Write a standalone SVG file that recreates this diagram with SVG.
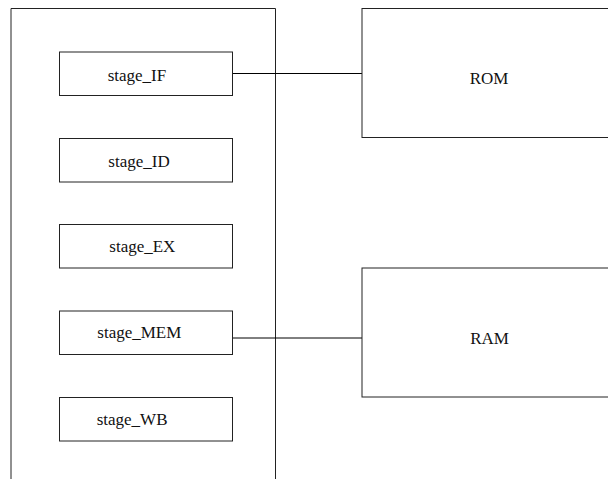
<svg xmlns="http://www.w3.org/2000/svg" width="608" height="479" viewBox="0 0 608 479">
  <style>
    .box { fill: #ffffff; stroke: #222222; stroke-width: 1; }
    .frame { fill: none; stroke: #222222; stroke-width: 1; }
    .wire { fill: none; stroke: #000000; stroke-width: 1; }
    .label { font-family: "Liberation Serif", "Times New Roman", serif; font-size: 17px; fill: #111111; }
  </style>
  <rect width="608" height="479" fill="#ffffff"/>

  <!-- CPU core container (open at the bottom) -->
  <g id="cpu">
    <path class="frame" d="M11,479 V8.5 H275.5 V479"/>
  </g>

  <!-- connectors -->
  <g id="connectors">
    <path class="wire" d="M232.5,73.5 H362"/>
    <path class="wire" d="M232.5,338 H362"/>
  </g>

  <!-- pipeline stages -->
  <g id="stage_IF">
    <rect class="box" x="59.5" y="52" width="173" height="43.5"/>
    <text class="label" x="107.7" y="80.5">stage_IF</text>
  </g>
  <g id="stage_ID">
    <rect class="box" x="59.5" y="138.5" width="173" height="43.5"/>
    <text class="label" x="108.3" y="166.7">stage_ID</text>
  </g>
  <g id="stage_EX">
    <rect class="box" x="59.5" y="224.5" width="173" height="43.5"/>
    <text class="label" x="109.3" y="252">stage_EX</text>
  </g>
  <g id="stage_MEM">
    <rect class="box" x="59.5" y="311" width="173" height="43.5"/>
    <text class="label" x="97.3" y="338.3">stage_MEM</text>
  </g>
  <g id="stage_WB">
    <rect class="box" x="59.5" y="397.5" width="173" height="43.5"/>
    <text class="label" x="96.7" y="425">stage_WB</text>
  </g>

  <!-- memories -->
  <g id="ROM">
    <rect class="box" x="362" y="8.5" width="256" height="129"/>
    <text class="label" x="489" y="84" text-anchor="middle">ROM</text>
  </g>
  <g id="RAM">
    <rect class="box" x="362" y="268" width="256" height="129"/>
    <text class="label" x="489.5" y="344" text-anchor="middle">RAM</text>
  </g>
</svg>
